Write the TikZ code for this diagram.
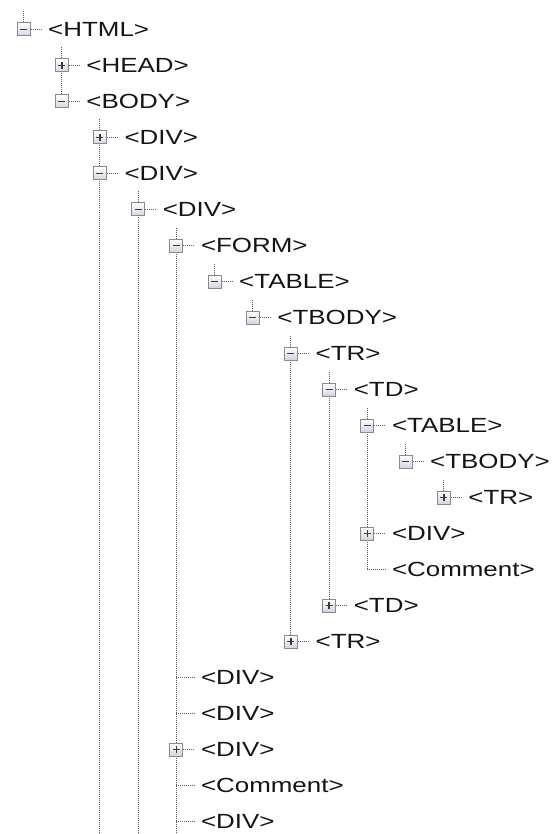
\documentclass[tikz,border=0pt]{standalone}
\usepackage{fontspec}
\setmainfont{Liberation Sans}
\definecolor{dotgray}{HTML}{5E5E5E}
\definecolor{boxgray}{HTML}{8A8A8A}
\definecolor{boxfill}{HTML}{D4D4DE}
\definecolor{signcol}{HTML}{3A3A3A}
\definecolor{tagcol}{HTML}{151515}
\pgfdeclarelayer{paper}
\pgfdeclarelayer{lines}
\pgfsetlayers{paper,lines,main}
\begin{document}
\begin{tikzpicture}[x=1pt,y=-1pt,
  treeline/.style={draw=dotgray, line width=1pt, dash pattern=on 1pt off 1pt},
  expbox/.style={rectangle, draw=boxgray, line width=1pt, top color=white,
    bottom color=boxfill, minimum size=13pt, inner sep=0pt},
  expminus/.style={expbox, path picture={
    \draw[signcol, line width=1.6pt]
      ([xshift=-3.5pt]path picture bounding box.center) --
      ([xshift=3.5pt]path picture bounding box.center);}},
  expplus/.style={expbox, path picture={
    \draw[signcol, line width=1.6pt]
      ([xshift=-3.5pt]path picture bounding box.center) --
      ([xshift=3.5pt]path picture bounding box.center)
      ([yshift=-3.5pt]path picture bounding box.center) --
      ([yshift=3.5pt]path picture bounding box.center);}},
  tag/.style={anchor=base west, inner sep=0pt, text=tagcol,
    font=\fontsize{20.5}{23}\selectfont},
]
\begin{pgfonlayer}{paper}
  \fill[white] (0,0) rectangle (552,834);
\end{pgfonlayer}
\useasboundingbox (0,0) rectangle (552,834);

% rows: index / depth / expander (m = open, p = closed, l = leaf) / element
\foreach \r/\l/\k/\t in {
  0/0/m/HTML, 1/1/p/HEAD, 2/1/m/BODY, 3/2/p/DIV, 4/2/m/DIV, 5/3/m/DIV,
  6/4/m/FORM, 7/5/m/TABLE, 8/6/m/TBODY, 9/7/m/TR, 10/8/m/TD,
  11/9/m/TABLE, 12/10/m/TBODY, 13/11/p/TR, 14/9/p/DIV, 15/9/l/Comment,
  16/8/p/TD, 17/7/p/TR, 18/4/l/DIV, 19/4/l/DIV, 20/4/p/DIV,
  21/4/l/Comment, 22/4/l/DIV}{
  \pgfmathsetmacro{\xx}{23.5+38.2*\l}
  \pgfmathsetmacro{\yy}{29.5+36*\r}
  \coordinate (c\r) at (\xx,\yy);
  \coordinate (h\r) at (\xx+19,\yy);
  \node[tag] (t\r) at (\xx+24.5,\yy+7.3)
    {\scalebox{1.265}[1]{\textless\t\textgreater}};
  \if\k l
    \begin{pgfonlayer}{lines}
      \draw[treeline] (c\r) -- (h\r);
    \end{pgfonlayer}
  \else
    \if\k m
      \node[expminus] (e\r) at (c\r) {};
    \else
      \node[expplus] (e\r) at (c\r) {};
    \fi
    \begin{pgfonlayer}{lines}
      \draw[treeline] (e\r.east) -- (h\r);
    \end{pgfonlayer}
  \fi
}

% vertical guide of each depth: depth / first row (half step above) / last row
\begin{pgfonlayer}{lines}
\foreach \l/\a/\b in {0/-0.5/0, 1/0.5/2, 2/2.5/22.4, 3/4.5/22.4,
  4/5.5/22.4, 5/6.5/7, 6/7.5/8, 7/8.5/17, 8/9.5/16, 9/10.5/15,
  10/11.5/12, 11/12.5/13}{
  \pgfmathsetmacro{\xx}{23.5+38.2*\l}
  \coordinate (va\l) at (\xx,{29.5+36*\a});
  \coordinate (vb\l) at (\xx,{29.5+36*\b});
  \draw[treeline] (va\l) -- (vb\l);
}
\end{pgfonlayer}
\end{tikzpicture}
\end{document}
